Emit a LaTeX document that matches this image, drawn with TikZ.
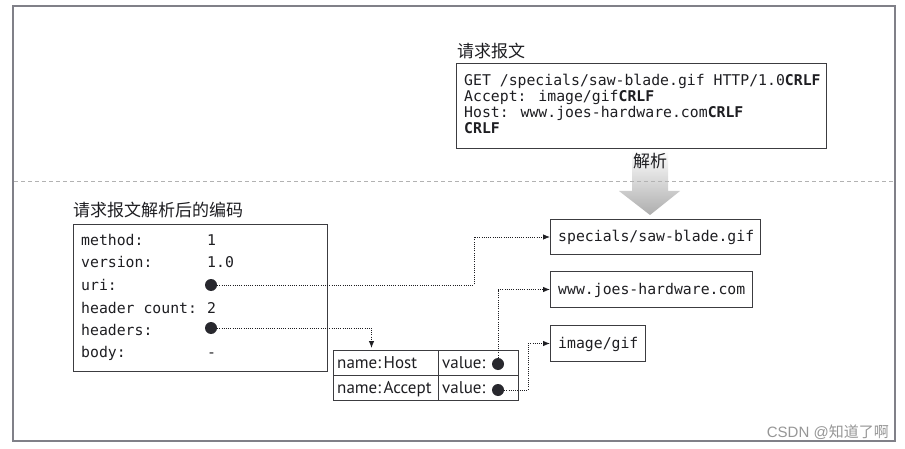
\documentclass[tikz,border=0pt]{standalone}
\usepackage{fontspec}
\setmainfont{PT Sans}
\newfontfamily\cjk{Noto Sans CJK SC}
\newfontfamily\monof{DejaVu Sans Mono}
\newfontfamily\wmfont{Liberation Sans}
\usetikzlibrary{arrows.meta}
\definecolor{framec}{RGB}{128,128,136}
\definecolor{boxc}{RGB}{60,60,64}
\definecolor{txtc}{RGB}{30,30,34}
\definecolor{dotc}{RGB}{40,40,46}
\definecolor{wmc}{RGB}{150,150,150}
\begin{document}
\begin{tikzpicture}[x=1pt,y=-1pt,
  boxr/.style={draw=boxc, line width=1pt, inner sep=0pt},
  mtext/.style={font=\monof\fontsize{14.8}{16}\selectfont, text=txtc, inner sep=0pt, anchor=base west},
  stext/.style={font=\fontsize{17}{19}\selectfont, text=txtc, inner sep=0pt, anchor=base west},
  ctitle/.style={font=\cjk\fontsize{17}{19}\selectfont, text=txtc, inner sep=0pt},
  dotn/.style={circle, fill=dotc, inner sep=0pt, minimum size=12pt},
  conn/.style={draw=txtc, line width=0.8pt, dash pattern=on 1pt off 1.2pt, -{Latex[length=7pt,width=5.5pt]}}
]
\useasboundingbox (0,0) rectangle (905,449);
\fill[white] (0,0) rectangle (905,449);
% outer frame
\draw[framec, line width=1.5pt] (13,6) rectangle (895,441);

% request box
\node[ctitle, anchor=west] (reqtitle) at (457,51) {请求报文};
\node[boxr, minimum width=370pt, minimum height=85pt, anchor=north west] (req) at (456,63) {};
\node[mtext] (r1) at (464,86) {GET /specials/saw-blade.gif HTTP/1.0\textbf{CRLF}};
\node[mtext] (r2) at (464,102) {Accept: image/gif\textbf{CRLF}};
\node[mtext] (r3) at (464,118) {Host: www.joes-hardware.com\textbf{CRLF}};
\node[mtext] (r4) at (464,134) {\textbf{CRLF}};

% big arrow
\shade[top color=white, bottom color=black!32] (632,150) -- (668,150) -- (668,191) -- (680,191) -- (650,215) -- (619,191) -- (632,191) -- cycle;
\node[ctitle] (parse) at (650,161) {解析};
% separator
\draw[black!30, line width=0.8pt, dash pattern=on 4pt off 3pt] (14,181) -- (894,181);

% left box
\node[ctitle, anchor=west] (ltitle) at (73,210) {请求报文解析后的编码};
\node[boxr, minimum width=254pt, minimum height=147pt, anchor=north west] (lbox) at (73,224) {};
\node[mtext] (l1) at (81,245) {method:};
\node[mtext] (l2) at (81,268) {version:};
\node[mtext] (l3) at (81,290) {uri:};
\node[mtext] (l4) at (81,313) {header count:};
\node[mtext] (l5) at (81,335) {headers:};
\node[mtext] (l6) at (81,357) {body:};
\node[mtext] (v1) at (207,245) {1};
\node[mtext] (v2) at (207,268) {1.0};
\node[mtext] (v4) at (207,313) {2};
\node[mtext] (v6) at (207,357) {-};
\node[dotn] (uridot) at (211,285) {};
\node[dotn] (hdot) at (211,328) {};

% value boxes
\node[boxr, minimum width=210pt, minimum height=35pt, anchor=north west] (spec) at (550,219) {};
\node[mtext] (spect) at (558,241.5) {specials/saw-blade.gif};
\node[boxr, minimum width=202pt, minimum height=36pt, anchor=north west] (www) at (550,271) {};
\node[mtext] (wwwt) at (558,294) {www.joes-hardware.com};
\node[boxr, minimum width=95pt, minimum height=36pt, anchor=north west] (img) at (550,325) {};
\node[mtext] (imgt) at (558,348) {image/gif};

% table
\node[boxr, minimum width=105pt, minimum height=25pt, anchor=north west] (c11) at (333,350) {};
\node[boxr, minimum width=80pt, minimum height=25pt, anchor=north west] (c12) at (438,350) {};
\node[boxr, minimum width=105pt, minimum height=25pt, anchor=north west] (c21) at (333,375) {};
\node[boxr, minimum width=80pt, minimum height=25pt, anchor=north west] (c22) at (438,375) {};
\node[stext] (t11) at (337,368.5) {name:\hspace{0.15em}Host};
\node[stext] (t12) at (442,368.5) {value:};
\node[stext] (t21) at (337,393.5) {name:\hspace{0.15em}Accept};
\node[stext] (t22) at (442,393.5) {value:};
\node[dotn] (hostdot) at (498,364) {};
\node[dotn] (accdot) at (498,390) {};

% connectors
\draw[conn] (uridot.east) -- (474,285) |- (spec.west);
\draw[conn, shorten >=2pt] (hdot.east) -| ([xshift=-14.5pt]c11.north);
\draw[conn] (hostdot.north) |- (www.west);
\draw[conn] (accdot.east) -- (528,390) |- (img.west);

% watermark
\node[font=\wmfont\fontsize{15}{17}\selectfont, text=wmc, inner sep=0pt, anchor=east] (wm) at (889,432) {CSDN @{\cjk 知道了啊}};
\end{tikzpicture}
\end{document}
